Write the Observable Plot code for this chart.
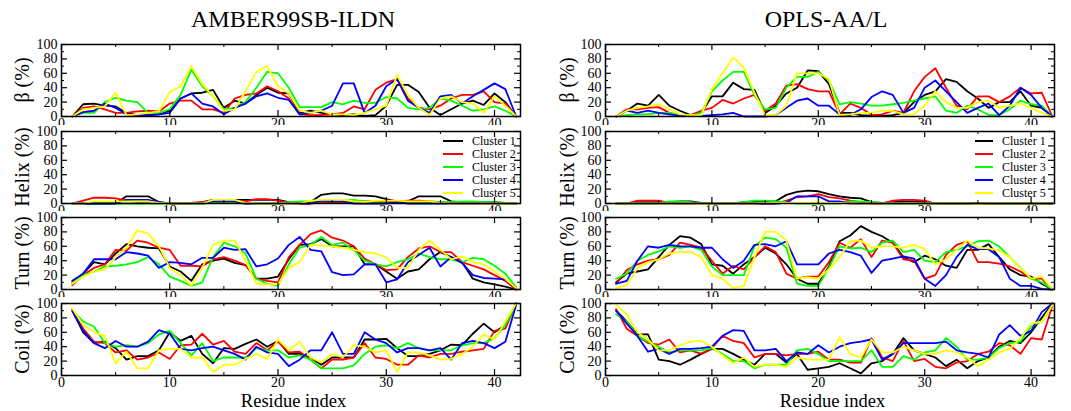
<!DOCTYPE html>
<html>
<head>
<meta charset="utf-8">
<script src="https://cdn.jsdelivr.net/npm/d3@7"></script>
<script src="https://cdn.jsdelivr.net/npm/@observablehq/plot@0.6"></script>
<style>
  body { margin: 0; background: #fff; }
  #fig { position: relative; width: 1071px; height: 411px; overflow: hidden; font-family: "Liberation Serif", "Times New Roman", serif; color: #000; }
  .panel { position: absolute; }
  .panel svg { display: block; }
  .txt { position: absolute; white-space: nowrap; line-height: 1; }
  .ylab { transform: translate(-50%, -50%) rotate(-90deg); font-size: 20px; }
  .title { transform: translate(-50%, 0); font-size: 24px; }
  .xlab { transform: translate(-50%, 0); font-size: 18.5px; }
</style>
</head>
<body>
<div id="fig"></div>
<script>
// Residue positions along the peptide
const residues = [1,2,3,4,5,6,7,8,9,10,11,12,13,14,15,16,17,18,19,20,21,22,23,24,25,26,27,28,29,30,31,32,33,34,35,36,37,38,39,40,41,42];
const clusters = ["Cluster 1", "Cluster 2", "Cluster 3", "Cluster 4", "Cluster 5"];
const clusterColors = ["#000000", "#ff0000", "#00ff00", "#0000ff", "#ffff00"];
const forceFields = ["AMBER99SB-ILDN", "OPLS-AA/L"];
const structureLabels = ["β (%)", "Helix (%)", "Turn (%)", "Coil (%)"];
const xTicks = [0, 10, 20, 30, 40];
const xMinor = [5, 15, 25, 35];
const yTicks = [0, 20, 40, 60, 80, 100];
const yMinor = [10, 30, 50, 70, 90];

// ---- AMBER99SB-ILDN: per-cluster secondary-structure content (%) ----
const amberBeta = [
  [0,17,18,15,14,5,2,2,3,8,25,32,33,37,12,22,18,30,40,33,32,5,8,5,3,2,3,1,2,15,44,44,34,12,2,10,18,22,16,32,20,0],
  [0,12,14,10,5,5,7,8,7,18,22,22,10,10,5,25,30,32,42,35,25,3,2,2,3,5,14,10,37,47,52,25,12,10,15,25,30,30,35,20,18,0],
  [0,5,5,20,26,22,20,5,5,10,30,65,42,28,10,12,20,40,62,60,40,13,13,13,20,17,22,19,19,27,25,12,10,12,25,22,15,8,10,14,8,0],
  [0,6,8,18,12,3,2,2,3,5,25,32,18,14,3,12,18,28,32,26,23,3,5,8,15,46,46,5,15,42,52,22,12,5,28,30,18,28,37,46,38,0],
  [0,10,12,14,33,2,3,5,7,34,42,70,45,28,8,10,35,62,70,42,32,8,5,8,3,3,2,5,10,15,58,30,12,2,25,28,20,18,5,28,15,0]
];
const amberHelix = [
  [0,0,0,0,0,10,10,10,2,0,0,0,2,5,5,5,5,5,5,5,2,0,2,12,14,14,11,11,10,6,3,3,10,10,10,3,2,2,2,2,1,0],
  [0,4,8,8,7,4,2,2,1,1,0,1,2,3,3,3,3,6,6,4,1,0,0,2,2,2,3,3,3,3,3,4,4,3,2,1,0,0,0,0,0,0],
  [0,0,0,0,0,0,0,0,0,0,0,0,0,1,1,1,0,0,0,0,2,3,3,4,4,4,5,3,2,1,1,1,1,1,2,2,3,3,2,2,1,0],
  [0,0,0,0,0,5,5,5,2,0,0,0,0,3,3,3,0,0,0,0,0,0,0,4,3,3,0,0,0,0,2,0,0,0,0,0,0,0,0,0,0,0],
  [0,0,3,3,3,3,3,3,1,0,0,0,0,5,5,5,1,0,0,0,0,0,4,5,5,5,3,2,4,4,4,3,3,3,1,0,0,0,0,0,0,0]
];
const amberTurn = [
  [10,22,38,35,50,63,60,58,57,32,25,12,35,40,43,37,34,15,15,18,42,62,63,70,60,60,60,35,35,25,15,25,28,42,52,45,38,15,10,7,4,0],
  [6,20,30,35,55,54,68,65,58,55,33,33,32,42,45,40,34,15,12,10,45,62,77,82,72,68,60,43,35,27,28,45,57,60,52,52,38,33,28,20,12,0],
  [10,20,25,32,33,35,38,45,35,18,12,5,10,45,65,60,50,15,8,5,35,58,62,73,62,65,55,40,35,32,38,42,50,45,42,42,38,44,42,33,22,3],
  [12,22,42,42,42,52,50,47,30,38,37,35,44,44,58,55,56,32,35,43,62,73,55,53,24,20,21,35,35,10,14,38,48,58,32,45,37,20,16,15,14,2],
  [8,18,25,28,45,58,82,78,60,30,20,5,30,62,68,68,40,8,7,7,30,38,62,61,60,58,55,52,50,45,30,30,55,68,55,42,46,38,35,25,15,2]
];
const amberCoil = [
  [90,60,45,47,38,22,27,27,35,60,48,55,30,17,38,37,44,50,40,48,30,30,25,15,25,25,25,50,50,51,38,27,27,30,35,43,42,58,72,60,70,100],
  [92,65,47,45,32,35,22,25,32,23,42,43,58,43,48,33,30,45,35,47,32,33,22,10,22,22,25,45,25,23,15,15,28,25,30,30,33,35,37,62,65,100],
  [90,75,68,45,40,42,40,45,57,62,45,28,45,20,25,25,25,38,35,35,25,28,22,10,10,10,14,30,40,42,38,45,38,35,35,35,42,45,45,52,70,98],
  [90,62,45,38,48,40,40,47,63,58,37,35,38,40,35,30,22,40,32,30,13,22,35,35,60,30,30,60,50,45,32,38,38,35,38,22,45,48,45,38,47,98],
  [93,70,60,55,17,33,10,10,35,37,37,25,25,5,15,15,23,30,23,50,35,47,25,18,30,25,42,40,32,35,5,32,32,28,22,23,30,40,57,50,75,100]
];

// ---- OPLS-AA/L: per-cluster secondary-structure content (%) ----
const oplsBeta = [
  [0,8,18,15,30,15,8,2,5,28,28,47,38,37,5,15,32,40,64,63,45,5,5,2,1,1,2,5,20,30,35,52,48,35,25,12,20,20,35,15,12,0],
  [0,10,10,12,13,5,2,2,8,12,23,18,25,30,8,18,43,45,38,35,35,3,18,12,2,3,8,5,35,55,67,40,15,10,28,28,20,28,40,32,33,0],
  [0,2,3,3,5,5,2,1,5,35,50,62,62,30,10,12,40,55,55,62,50,17,20,18,15,15,17,19,22,25,28,8,5,15,10,2,2,10,22,17,15,0],
  [0,8,5,8,5,3,1,1,1,2,3,5,0,0,0,2,12,22,25,15,15,3,2,10,27,35,30,5,12,40,50,35,20,5,12,18,2,15,40,30,12,0],
  [0,8,12,14,17,10,3,2,2,38,60,82,68,33,2,2,15,60,60,60,52,2,3,5,5,8,8,3,3,15,35,20,12,12,20,22,12,15,18,12,5,0]
];
const oplsHelix = [
  [0,0,2,2,2,2,3,3,1,0,0,0,2,3,3,3,12,16,18,17,13,10,8,7,2,1,2,3,3,2,0,0,0,0,1,0,0,0,0,0,0,0],
  [0,0,4,4,4,1,0,0,0,0,0,0,0,0,0,0,4,9,10,13,9,7,4,2,0,0,4,5,5,4,0,0,0,0,0,0,0,0,0,0,0,0],
  [0,0,0,0,0,3,3,2,0,0,0,0,2,4,4,3,2,0,0,0,0,0,3,3,2,0,0,0,0,0,0,0,0,0,0,0,0,0,0,0,0,0],
  [0,0,0,0,0,0,0,0,1,0,0,0,0,0,0,0,1,10,10,10,3,3,0,0,0,0,0,0,0,0,0,0,0,0,1,0,0,0,0,0,0,0],
  [0,0,0,0,0,0,0,0,0,0,0,0,0,0,1,1,1,1,1,2,1,1,0,0,0,0,0,0,0,0,0,0,0,0,0,0,0,0,0,0,0,0]
];
const oplsTurn = [
  [10,22,25,28,45,62,74,72,63,35,33,22,35,45,58,50,35,15,8,8,32,67,75,88,80,74,65,45,38,47,42,33,30,55,55,63,45,28,20,18,8,0],
  [8,27,35,40,42,48,65,62,58,40,22,33,28,45,60,52,22,15,18,18,38,65,58,70,45,68,65,42,40,15,20,48,62,67,38,38,36,32,25,15,15,0],
  [15,22,40,48,53,60,58,60,55,32,20,20,20,60,72,70,58,8,5,5,30,60,57,58,52,65,68,52,55,40,38,52,55,60,67,68,60,45,30,15,10,0],
  [8,12,40,60,58,62,60,60,58,58,42,30,40,62,63,60,67,35,35,35,50,55,52,47,23,40,43,46,43,15,5,20,45,62,56,56,45,15,5,5,1,0],
  [2,6,30,38,42,50,52,52,45,20,15,2,5,45,80,80,68,15,17,15,28,45,67,68,58,60,60,58,62,56,35,42,55,68,58,57,54,45,30,15,18,0]
];
const oplsCoil = [
  [90,75,57,57,22,20,15,22,30,37,37,30,22,15,30,30,18,30,8,10,12,17,10,3,17,20,30,52,35,30,25,13,22,10,20,25,40,48,45,60,80,100],
  [92,65,55,45,43,50,32,35,30,38,55,48,45,25,30,30,28,30,30,33,22,22,18,18,52,25,20,48,20,23,12,10,18,20,30,33,45,42,30,52,50,97],
  [85,75,55,47,40,32,35,35,35,38,30,20,20,10,15,15,15,35,37,30,20,20,20,20,35,12,12,27,22,32,35,52,40,22,22,25,38,45,47,68,75,98],
  [90,72,55,33,37,30,37,37,38,40,55,63,62,35,35,37,20,32,30,42,32,40,45,47,50,22,30,45,45,45,45,47,35,32,30,25,57,70,55,62,88,100],
  [98,85,60,50,35,35,42,47,48,40,28,17,25,12,15,15,12,25,22,22,22,53,30,25,50,32,32,40,35,30,30,35,32,25,13,22,32,37,52,72,75,98]
];

const columns = [
  { title: forceFields[0], panels: [amberBeta, amberHelix, amberTurn, amberCoil] },
  { title: forceFields[1], panels: [oplsBeta, oplsHelix, oplsTurn, oplsCoil] }
];

// Column geometry (pixels)
const colGeom = [
  { left: 0,   width: 530, marginLeft: 61, marginRight: 10, xMax: 42.4, ylabX: 22,  titleX: 293, legendLine: [443, 463], legendText: 472 },
  { left: 535, width: 536, marginLeft: 70, marginRight: 17, xMax: 42.2, ylabX: 567, titleX: 826, legendLine: [440, 458], legendText: 467 }
];
const frameTops = [44, 131, 217, 303];
const frameH = 72;
const marginTop = 6;

const fig = document.getElementById("fig");

function addText(cls, text, x, y) {
  const d = document.createElement("div");
  d.className = "txt " + cls;
  d.textContent = text;
  d.style.left = x + "px";
  d.style.top = y + "px";
  fig.appendChild(d);
}

function toRows(series) {
  const rows = [];
  series.forEach((vals, i) => {
    vals.forEach((v, j) => rows.push({ residue: residues[j], value: v, cluster: clusters[i] }));
  });
  return rows;
}

// Draw rows top to bottom so each panel covers the clipped tick labels of the one above.
for (let r = 0; r < 4; r++) {
  columns.forEach((col, c) => {
    const g = colGeom[c];
    const last = r === 3;
    const marginBottom = last ? 411 - frameTops[r] - frameH : 24;
    const height = marginTop + frameH + marginBottom;
    const W = g.width - g.marginLeft - g.marginRight;
    const svg = Plot.plot({
      width: g.width,
      height,
      marginTop,
      marginBottom,
      marginLeft: g.marginLeft,
      marginRight: g.marginRight,
      style: { fontFamily: "Liberation Serif, Times New Roman, serif", fontSize: "14px", background: "#fff", color: "#000", overflow: "visible" },
      x: { domain: [0, g.xMax] },
      y: { domain: [0, 100] },
      color: { domain: clusters, range: clusterColors },
      marks: [
        Plot.line(toRows(col.panels[r]), { x: "residue", y: "value", stroke: "cluster", strokeWidth: 1.8, strokeLinejoin: "round" }),
        // inward ticks on all four sides
        Plot.tickX(xTicks, { x: d => d, insetTop: frameH - 6, stroke: "#000", strokeWidth: 1.2 }),
        Plot.tickX(xTicks, { x: d => d, insetBottom: frameH - 6, stroke: "#000", strokeWidth: 1.2 }),
        Plot.tickX(xMinor, { x: d => d, insetTop: frameH - 3, stroke: "#000", strokeWidth: 1 }),
        Plot.tickX(xMinor, { x: d => d, insetBottom: frameH - 3, stroke: "#000", strokeWidth: 1 }),
        Plot.tickY(yTicks, { y: d => d, insetRight: W - 6, stroke: "#000", strokeWidth: 1.2 }),
        Plot.tickY(yTicks, { y: d => d, insetLeft: W - 6, stroke: "#000", strokeWidth: 1.2 }),
        Plot.tickY(yMinor, { y: d => d, insetRight: W - 3, stroke: "#000", strokeWidth: 1 }),
        Plot.tickY(yMinor, { y: d => d, insetLeft: W - 3, stroke: "#000", strokeWidth: 1 }),
        Plot.axisX({ ticks: xTicks, tickSize: 0, tickPadding: 2, label: null, fontSize: 14 }),
        Plot.axisY({ ticks: yTicks, tickSize: 0, tickPadding: 4, label: null, fontSize: 14 }),
        Plot.frame({ stroke: "#000", strokeWidth: 1.5 })
      ]
    });

    // Legend inside the helix panel
    if (r === 1) {
      const lg = d3.select(svg).append("g").attr("text-anchor", "start");
      const rowY = [16, 29, 42, 55, 68];
      clusters.forEach((name, i) => {
        lg.append("line")
          .attr("x1", g.legendLine[0]).attr("x2", g.legendLine[1])
          .attr("y1", rowY[i]).attr("y2", rowY[i])
          .attr("stroke", clusterColors[i]).attr("stroke-width", 2);
        lg.append("text")
          .attr("x", g.legendText).attr("y", rowY[i]).attr("dy", "0.35em")
          .attr("text-anchor", "start")
          .attr("font-size", 12).attr("fill", "#000")
          .text(name);
      });
    }

    const holder = document.createElement("div");
    holder.className = "panel";
    holder.style.left = g.left + "px";
    holder.style.top = (frameTops[r] - marginTop) + "px";
    holder.appendChild(svg);
    fig.appendChild(holder);

    addText("ylab", structureLabels[r], g.ylabX, frameTops[r] + frameH / 2);
    if (last) addText("xlab", "Residue index", g.left + g.marginLeft + W / 2 + 3, 392);
  });
}

columns.forEach((col, c) => addText("title", col.title, colGeom[c].titleX, 7));
</script>
</body>
</html>
